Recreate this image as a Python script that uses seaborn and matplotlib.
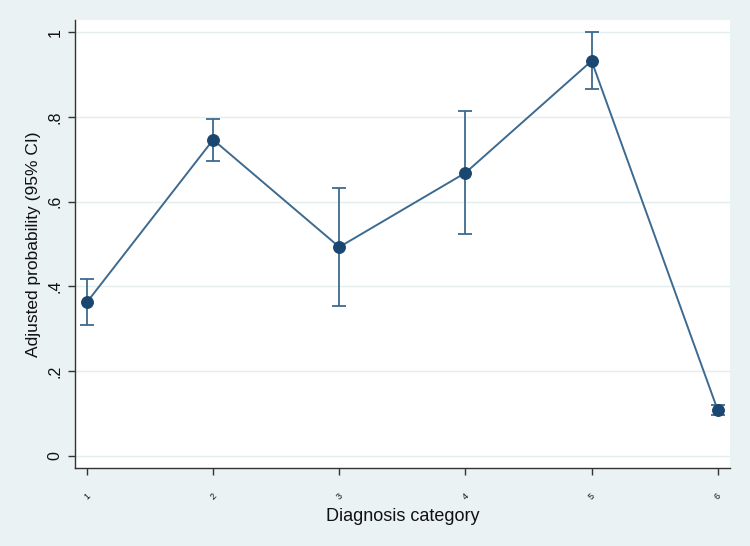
import seaborn as sns
from matplotlib import pyplot as plt
import numpy as np

categories = [1, 2, 3, 4, 5, 6]
prob = [0.363, 0.746, 0.493, 0.668, 0.932, 0.108]
ci_low = [0.309, 0.696, 0.354, 0.523, 0.865, 0.098]
ci_high = [0.417, 0.796, 0.632, 0.815, 1.000, 0.120]

bg = "#eaf2f3"
navy = "#1a476f"

sns.set_style("white")
plt.rcParams['font.family'] = ['Liberation Sans', 'DejaVu Sans']
plt.rcParams['text.color'] = '#111111'
plt.rcParams['axes.labelcolor'] = '#111111'
plt.rcParams['xtick.color'] = '#111111'
plt.rcParams['ytick.color'] = '#111111'

fig, ax = plt.subplots(figsize=(7.5, 5.46), dpi=100)
fig.patch.set_facecolor(bg)
ax.set_position([0.1, 0.143, 0.873, 0.82])

sns.lineplot(x=categories, y=prob, ax=ax, color="#3d6a8f", linewidth=1.4,
             marker="o", markersize=8.5, markerfacecolor=navy,
             markeredgecolor=navy, zorder=3)
yerr = [np.array(prob) - np.array(ci_low), np.array(ci_high) - np.array(prob)]
ax.errorbar(categories, prob, yerr=yerr, fmt="none", ecolor="#3d6a8f",
            elinewidth=1.3, capsize=5, capthick=1.3, zorder=2)

ax.set_xlim(0.905, 6.095)
ax.set_ylim(-0.028, 1.028)
ax.set_yticks([0, 0.2, 0.4, 0.6, 0.8, 1.0])
ax.set_yticklabels(["0", ".2", ".4", ".6", ".8", "1"], rotation=90,
                   va="center", fontsize=11.5)
ax.set_xticks(categories)
ax.set_xticklabels([str(c) for c in categories], rotation=45, fontsize=6.5)
ax.grid(axis="y", color="#e4eeef", linewidth=1)
ax.tick_params(axis="both", direction="out", length=5, width=1,
               color="#333333", bottom=True, left=True)
ax.tick_params(axis="x", pad=12)
ax.tick_params(axis="y", pad=4)

for s in ["top", "right"]:
    ax.spines[s].set_visible(False)
for s in ["left", "bottom"]:
    ax.spines[s].set_color("#333333")
    ax.spines[s].set_linewidth(1)

ax.set_xlabel("Diagnosis category", fontsize=13, labelpad=5)
ax.set_ylabel("Adjusted probability (95% CI)", fontsize=12.5, labelpad=5)

plt.savefig("out.png", dpi=100, facecolor=bg)
